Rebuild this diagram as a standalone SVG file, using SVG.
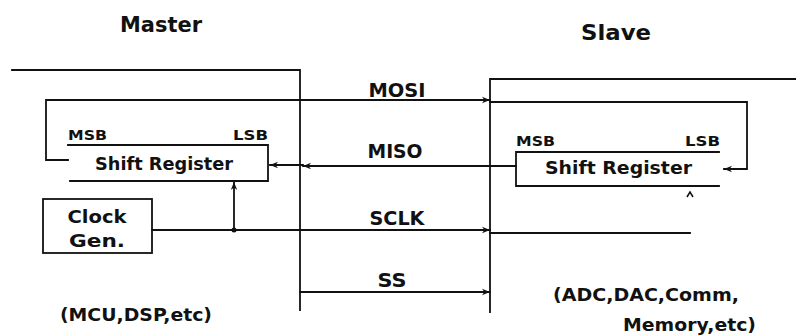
<svg xmlns="http://www.w3.org/2000/svg" width="796" height="335" viewBox="0 0 796 335">
  <defs>
    <marker id="arr" viewBox="0 0 10 10" refX="10" refY="5" markerWidth="8" markerHeight="8" markerUnits="userSpaceOnUse" orient="auto">
      <path d="M0,1 L10,5 L0,9 L3,5 Z" fill="#111"/>
    </marker>
  </defs>
  <style>
    .ln { fill: none; stroke: #111; stroke-width: 1.8; stroke-linecap: square; }
    .t { font-family: "DejaVu Sans", "Liberation Sans", sans-serif; font-weight: bold; fill: #111; }
    .sig { font-size: 19px; text-anchor: middle; }
    .big { font-size: 21px; text-anchor: middle; }
    .reg { font-size: 18px; }
    .bit { font-size: 14px; }
    .note { font-size: 18px; }
  </style>
  <rect width="796" height="335" fill="#fff"/>

  <g id="master">
    <text class="t big" x="161" y="32" textLength="82" lengthAdjust="spacingAndGlyphs">Master</text>
    <path class="ln" d="M12,70 H300 V310"/>
    <text class="t note" x="60" y="321" textLength="152" lengthAdjust="spacingAndGlyphs">(MCU,DSP,etc)</text>
  </g>

  <g id="master-register">
    <path class="ln" d="M68,145 H268 V181 H70"/>
    <text class="t bit" x="68" y="140" textLength="39" lengthAdjust="spacingAndGlyphs">MSB</text>
    <text class="t bit" x="233" y="140" textLength="35" lengthAdjust="spacingAndGlyphs">LSB</text>
    <text class="t reg" x="95" y="170" textLength="138" lengthAdjust="spacingAndGlyphs">Shift Register</text>
  </g>

  <g id="clock-gen">
    <rect class="ln" x="43" y="199" width="109" height="54"/>
    <text class="t note" x="97" y="223" text-anchor="middle" textLength="59" lengthAdjust="spacingAndGlyphs">Clock</text>
    <text class="t note" x="97" y="247" text-anchor="middle" textLength="56" lengthAdjust="spacingAndGlyphs">Gen.</text>
  </g>

  <g id="slave">
    <text class="t big" x="616" y="40" textLength="70" lengthAdjust="spacingAndGlyphs">Slave</text>
    <path class="ln" d="M796,79 H490 V312"/>
    <text class="t note" x="553" y="301" textLength="186" lengthAdjust="spacingAndGlyphs">(ADC,DAC,Comm,</text>
    <text class="t note" x="623" y="331" textLength="133" lengthAdjust="spacingAndGlyphs">Memory,etc)</text>
  </g>

  <g id="slave-register">
    <path class="ln" d="M719,152 H516 V186 H719"/>
    <text class="t bit" x="516" y="146" font-size="15" textLength="39" lengthAdjust="spacingAndGlyphs">MSB</text>
    <text class="t bit" x="685" y="146" font-size="15" textLength="35" lengthAdjust="spacingAndGlyphs">LSB</text>
    <text class="t reg" x="545" y="174" textLength="147" lengthAdjust="spacingAndGlyphs">Shift Register</text>
  </g>

  <g id="connectors">
    <path class="ln" d="M68,160 H46 V100 H490" marker-end="url(#arr)"/>
    <text class="t sig" x="397" y="97" textLength="57" lengthAdjust="spacingAndGlyphs">MOSI</text>
    <path class="ln" d="M490,102 H747 V169 H724" marker-end="url(#arr)"/>
    <path class="ln" d="M516,166 H303" marker-end="url(#arr)"/>
    <path class="ln" d="M303,165 H270" marker-end="url(#arr)"/>
    <text class="t sig" x="395" y="158" textLength="55" lengthAdjust="spacingAndGlyphs">MISO</text>
    <path class="ln" d="M152,230 H490" marker-end="url(#arr)"/>
    <path class="ln" d="M490,233 H690"/>
    <circle cx="234" cy="230" r="2.5" fill="#111"/>
    <path class="ln" d="M234,230 V182" marker-end="url(#arr)"/>
    <path d="M687,197 L690,192 L693,197" fill="none" stroke="#111" stroke-width="1.5"/>
    <text class="t sig" x="397" y="225" textLength="55" lengthAdjust="spacingAndGlyphs">SCLK</text>
    <path class="ln" d="M300,292 H490" marker-end="url(#arr)"/>
    <text class="t sig" x="392" y="287" textLength="29" lengthAdjust="spacingAndGlyphs">SS</text>
  </g>
</svg>
